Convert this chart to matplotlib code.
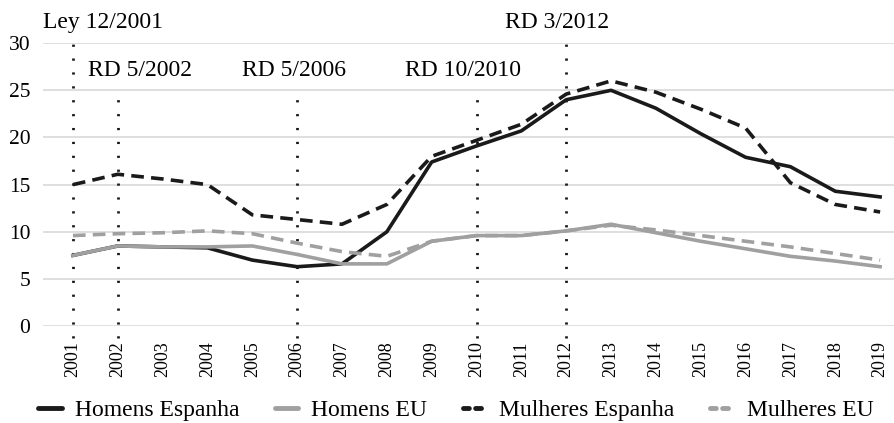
import matplotlib.pyplot as plt
from matplotlib.lines import Line2D

years = list(range(2001, 2020))

homens_espanha = [7.5, 8.5, 8.4, 8.3, 7.0, 6.3, 6.6, 10.0, 17.4, 19.1, 20.7, 24.0, 25.0, 23.1, 20.4, 17.9, 16.9, 14.3, 13.7]
homens_eu = [7.5, 8.5, 8.4, 8.4, 8.5, 7.6, 6.6, 6.6, 9.0, 9.6, 9.6, 10.1, 10.8, 9.9, 9.0, 8.2, 7.4, 6.9, 6.3]
mulheres_espanha = [15.0, 16.1, 15.6, 15.0, 11.8, 11.3, 10.8, 12.9, 18.0, 19.7, 21.4, 24.6, 26.0, 24.8, 23.0, 21.0, 15.2, 12.9, 12.1]
mulheres_eu = [9.6, 9.8, 9.9, 10.1, 9.8, 8.8, 7.9, 7.4, 9.0, 9.6, 9.6, 10.1, 10.7, 10.2, 9.6, 9.0, 8.4, 7.7, 7.0]

laws = ["Ley 12/2001", "RD 5/2002", "RD 5/2006", "RD 10/2010", "RD 3/2012"]
law_years = [2001, 2002, 2006, 2010, 2012]
law_top = [30, 25, 25, 25, 30]

plt.rcParams['font.family'] = ['Liberation Serif', 'DejaVu Serif']

fig = plt.figure(figsize=(8.94, 4.23), dpi=100)
ax = fig.add_axes([0.048, 0.229, 0.952, 0.669])

black = '#1a1a1a'
gray = '#a0a0a0'
dash = (0, (3.5, 2))

ax.plot(years, homens_espanha, color=black, lw=2.6)
ax.plot(years, homens_eu, color=gray, lw=2.6)
ax.plot(years, mulheres_espanha, color=black, lw=2.6, linestyle=dash)
ax.plot(years, mulheres_eu, color=gray, lw=2.6, linestyle=dash)

# vertical markers for the laws
for yr, top in zip(law_years, law_top):
    ax.plot([yr, yr], [-1.3, top], color=black, lw=2, linestyle=(0, (0.8, 4.2)), clip_on=False, zorder=1)

# labels for the laws
label_x = [2000.33, 2001.33, 2004.77, 2008.41, 2010.64]
label_y = [32.2, 27.1, 27.1, 27.1, 32.2]
for txt, lx, ly in zip(laws, label_x, label_y):
    ax.text(lx, ly, txt, ha='left', va='center', fontsize=17, clip_on=False)

ax.set_xlim(2000.33, 2019.31)
ax.set_ylim(0, 30)
ax.set_yticks(range(0, 31, 5))
ax.set_xticks(years)
ax.set_xticklabels([str(y) for y in years], rotation=90)
ax.tick_params(axis='both', length=0)
ax.tick_params(axis='x', pad=11, labelsize=13)
ax.tick_params(axis='y', pad=9, labelsize=15.5)
ax.grid(axis='y', color='#d9d9d9', lw=1.2)
ax.set_axisbelow(True)
for s in ax.spines.values():
    s.set_visible(False)

# legend proxies with short handles like the original
handles = [
    Line2D([], [], color=black, lw=3.5, solid_capstyle='round'),
    Line2D([], [], color=gray, lw=3.5, solid_capstyle='round'),
    Line2D([], [], color=black, lw=3.5, linestyle=(0, (1.2, 1.3)), dash_capstyle='round'),
    Line2D([], [], color=gray, lw=3.5, linestyle=(0, (1.2, 1.3)), dash_capstyle='round'),
]
labels = ['Homens Espanha', 'Homens EU', 'Mulheres Espanha', 'Mulheres EU']
fig.legend(handles, labels, loc='center', bbox_to_anchor=(0.51, 0.03), ncol=4, frameon=False,
           handlelength=1.0, handletextpad=0.55, columnspacing=1.5, fontsize=17)

fig.savefig('out.png', dpi=100)
